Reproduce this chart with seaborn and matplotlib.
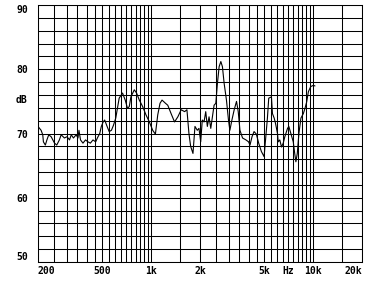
import matplotlib
matplotlib.use('Agg')
import matplotlib.pyplot as plt
from matplotlib.ticker import NullLocator
import pandas as pd
import seaborn as sns

# Frequency response
freq_hz = [200, 209, 214, 216, 222, 227, 233, 241, 253, 261, 271, 278, 291, 302,
           313, 321, 331, 344, 353, 358, 366, 379, 393, 407, 421, 437, 454, 465,
           481, 492, 505, 516, 534, 550, 568, 585, 604, 634, 665, 691, 714, 732,
           749, 786, 812, 844, 885, 928, 974, 1021, 1061, 1097, 1133, 1166, 1225,
           1265, 1326, 1393, 1460, 1531, 1607, 1661, 1709, 1751, 1810, 1862, 1924,
           1971, 2020, 2066, 2118, 2170, 2220, 2275, 2331, 2385, 2443, 2504, 2562,
           2625, 2690, 2751, 2819, 2913, 2998, 3058, 3148, 3252, 3361, 3444, 3529,
           3662, 3844, 3990, 4071, 4190, 4313, 4457, 4605, 4786, 4974, 5066, 5214,
           5313, 5521, 5601, 5740, 5848, 6018, 6078, 6218, 6371, 6528, 6680, 6940,
           7070, 7276, 7530, 7704, 7815, 7973, 8158, 8396, 8690, 8890, 9109, 9333,
           9646, 10024, 10250]
level_db = [71.1, 70.5, 69.8, 68.7, 68.2, 69.0, 69.8, 69.5, 68.5, 68.2, 69.0, 69.8,
            69.3, 69.5, 69.0, 69.8, 69.3, 69.8, 69.3, 70.5, 69.0, 68.5, 69.0, 68.7,
            68.5, 69.0, 68.7, 69.3, 70.0, 71.1, 71.8, 72.1, 71.1, 70.3, 70.5, 71.3,
            72.4, 75.5, 76.3, 75.2, 73.9, 74.2, 75.7, 76.8, 76.3, 75.2, 74.2, 72.9,
            71.8, 70.5, 69.9, 72.9, 74.7, 75.2, 74.7, 74.4, 73.1, 71.8, 72.6, 73.7,
            73.4, 73.7, 70.0, 68.0, 66.9, 71.1, 70.5, 70.8, 68.7, 72.1, 71.8, 73.4,
            71.1, 72.6, 70.8, 72.6, 74.4, 74.7, 77.8, 80.4, 81.2, 80.4, 77.8, 75.2,
            72.1, 70.5, 72.1, 73.7, 75.0, 73.4, 70.5, 69.3, 69.0, 68.7, 68.2, 69.5,
            70.3, 69.9, 68.5, 67.2, 66.4, 68.7, 72.4, 75.5, 75.7, 73.1, 72.4, 71.6,
            70.0, 68.7, 69.0, 67.9, 68.5, 69.5, 70.8, 71.1, 70.0, 68.7, 66.7, 65.6,
            66.9, 70.0, 72.4, 73.1, 73.9, 74.9, 76.5, 77.3, 77.5, 77.4]

grid_freqs = list(range(200, 1001, 50)) + [1500] + list(range(2000, 10001, 500)) + [15000, 20000]
x_label_map = {200: '200', 500: '500', 1000: '1k', 2000: '2k', 5000: '5k',
               7000: 'Hz', 10000: '10k', 20000: '20k'}
y_grid = list(range(50, 91, 2))
y_label_map = {50: '50', 60: '60', 70: '70', 80: '80', 90: '90'}

sns.set_style('white')
plt.rcParams['font.family'] = ['DejaVu Sans Mono']
plt.rcParams['font.weight'] = 'bold'

fig = plt.figure(figsize=(3.74, 2.81), dpi=100)
ax = fig.add_axes([0.1016, 0.0676, 0.8663, 0.9146])

df = pd.DataFrame({'freq': freq_hz, 'level': level_db})
sns.lineplot(data=df, x='freq', y='level', ax=ax, color='black',
             linewidth=0.8, estimator=None, sort=False)

ax.set_xscale('log')
ax.set_xlim(200, 20000)
ax.set_ylim(50, 90)

ax.set_xticks(grid_freqs)
ax.set_xticklabels([x_label_map.get(f, '') for f in grid_freqs])
ax.xaxis.set_minor_locator(NullLocator())
ax.set_yticks(y_grid)
ax.set_yticklabels([y_label_map.get(v, '') for v in y_grid])
ax.yaxis.set_minor_locator(NullLocator())

for f, lab in zip(grid_freqs, ax.get_xticklabels()):
    if f == 200:
        lab.set_ha('left')
    elif f == 20000:
        lab.set_ha('right')
for v, lab in zip(y_grid, ax.get_yticklabels()):
    if v == 90:
        lab.set_va('top')
    elif v == 50:
        lab.set_va('bottom')

ax.tick_params(axis='both', length=0, labelsize=7, colors='black')
ax.tick_params(axis='x', pad=3)
ax.tick_params(axis='y', pad=7)
ax.grid(True, which='major', color='black', linewidth=0.75)
for s in ax.spines.values():
    s.set_color('black')
    s.set_linewidth(0.75)

ax.set_xlabel('')
ax.set_ylabel('dB', rotation=0, fontsize=7, fontweight='bold', color='black')
ax.yaxis.set_label_coords(-0.052, 0.63)
ax.yaxis.label.set_va('center')
ax.yaxis.label.set_ha('center')

fig.savefig('out.png', dpi=100)
